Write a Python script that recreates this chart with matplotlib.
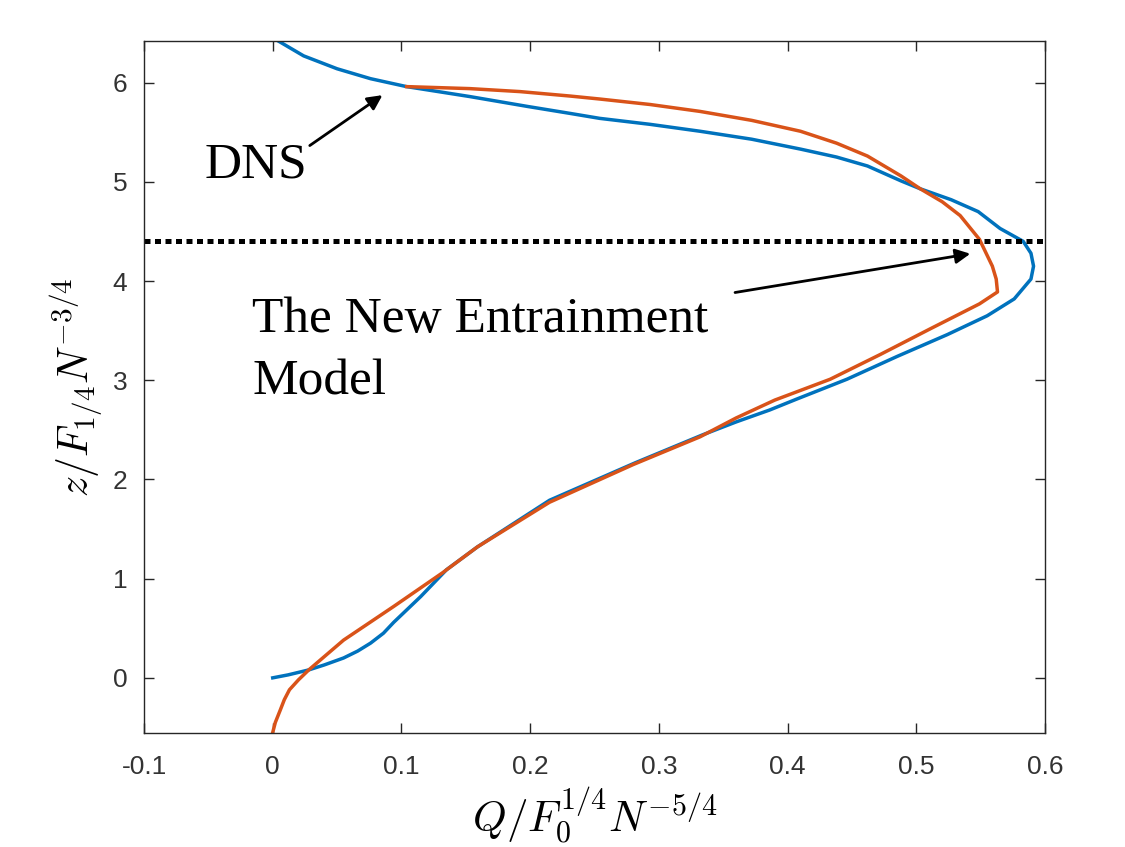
import numpy as np
import matplotlib.pyplot as plt

# DNS profile (blue)
dns_q = [0.003, 0.024, 0.050, 0.076, 0.104, 0.153, 0.198, 0.231, 0.254, 0.293,
         0.332, 0.372, 0.410, 0.438, 0.462, 0.488, 0.503, 0.527, 0.548, 0.565,
         0.583, 0.589, 0.591, 0.589, 0.576, 0.555, 0.524, 0.485, 0.446, 0.407,
         0.386, 0.360, 0.334, 0.282, 0.215, 0.159, 0.135, 0.115, 0.094, 0.086,
         0.076, 0.066, 0.055, 0.040, 0.028, 0.012, 0.0]
dns_z = [6.43, 6.27, 6.14, 6.04, 5.96, 5.86, 5.76, 5.69, 5.64, 5.58,
         5.51, 5.43, 5.33, 5.25, 5.16, 5.01, 4.93, 4.82, 4.70, 4.53,
         4.40, 4.28, 4.15, 4.02, 3.82, 3.65, 3.46, 3.24, 3.01, 2.81,
         2.70, 2.58, 2.45, 2.17, 1.79, 1.32, 1.09, 0.82, 0.56, 0.45,
         0.35, 0.27, 0.20, 0.13, 0.08, 0.03, 0.0]

# new entrainment model (orange)
model_q = [0.104, 0.153, 0.192, 0.231, 0.254, 0.293, 0.332, 0.372, 0.410, 0.438,
           0.462, 0.488, 0.503, 0.520, 0.534, 0.549, 0.559, 0.562, 0.563, 0.549,
           0.511, 0.472, 0.433, 0.390, 0.360, 0.332, 0.280, 0.215, 0.159, 0.132,
           0.094, 0.055, 0.028, 0.020, 0.013, 0.009, 0.006, 0.002, 0.0]
model_z = [5.96, 5.94, 5.91, 5.865, 5.835, 5.78, 5.71, 5.62, 5.51, 5.39,
           5.26, 5.06, 4.93, 4.80, 4.66, 4.42, 4.15, 4.02, 3.89, 3.77,
           3.52, 3.26, 3.01, 2.80, 2.62, 2.43, 2.15, 1.77, 1.32, 1.06,
           0.72, 0.38, 0.08, -0.02, -0.12, -0.22, -0.32, -0.45, -0.55]

z_level = 4.4

plt.rcParams['mathtext.fontset'] = 'cm'

fig = plt.figure(figsize=(11.25, 8.47), dpi=100)
ax = fig.add_axes([0.128, 0.1346, 0.801, 0.817])

ax.plot(dns_q, dns_z, color='#0072BD', linewidth=2.5)
ax.plot(model_q, model_z, color='#D95319', linewidth=2.5)
ax.axhline(z_level, color='black', linewidth=3.6, linestyle=(0, (1.2, 0.9)),
           dash_capstyle='butt')

ax.set_xlim(-0.1, 0.6)
ax.set_ylim(-0.556, 6.42)
ax.set_xticks(np.arange(-0.1, 0.61, 0.1))
ax.set_xticklabels(['-0.1', '0', '0.1', '0.2', '0.3', '0.4', '0.5', '0.6'])
ax.set_yticks(range(0, 7))

ax.tick_params(direction='in', top=True, right=True, length=7, width=1,
               labelsize=19, labelcolor='#333333', color='#262626')
ax.tick_params(axis='x', pad=16)
ax.tick_params(axis='y', pad=12)
for lab in ax.get_xticklabels() + ax.get_yticklabels():
    lab.set_family(['Liberation Sans', 'DejaVu Sans'])
for s in ax.spines.values():
    s.set_color('#262626')
    s.set_linewidth(1)

ax.set_xlabel(r'$Q/F_0^{1/4}N^{-5/4}$', fontsize=31, labelpad=4)
ax.set_ylabel(r'$z/F_{1/4}N^{-3/4}$', fontsize=30, labelpad=6)

serif = ['Liberation Serif', 'DejaVu Serif']
ax.annotate('', xy=(0.087, 5.89), xytext=(0.027, 5.35),
            arrowprops=dict(arrowstyle='-|>', color='black', lw=2, mutation_scale=22))
ax.text(-0.0526, 5.04, 'DNS', fontsize=37, family=serif, ha='left', va='baseline')

ax.annotate('', xy=(0.544, 4.28), xytext=(0.357, 3.88),
            arrowprops=dict(arrowstyle='-|>', color='black', lw=2, mutation_scale=22))
ax.text(-0.016, 2.86, 'The New Entrainment\nModel', fontsize=37, family=serif,
        ha='left', va='baseline', linespacing=1.45)

plt.savefig('out.png', dpi=100)
